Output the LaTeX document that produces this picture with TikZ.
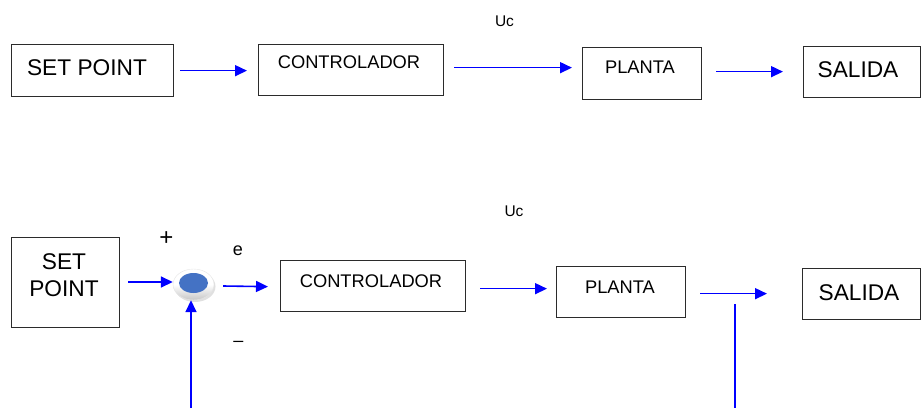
\documentclass[tikz,border=0pt]{standalone}
\usepackage{fontspec}
\setmainfont{Liberation Sans}
\usetikzlibrary{arrows.meta,calc,shapes.geometric}

\definecolor{boxline}{HTML}{2B2B2B}
\definecolor{sumblue}{RGB}{68,114,196}

\tikzset{
  blk/.style={draw=boxline, line width=1.3pt, rectangle, inner sep=0pt,
              anchor=north west, minimum width=#1},
  sig/.style={draw=blue, line width=1.6pt,
              -{Triangle[length=12pt,width=11pt]}},
  feed/.style={draw=blue, line width=1.6pt},
  big/.style={font=\fontsize{22.7}{26.5}\selectfont, anchor=base},
  mid/.style={font=\fontsize{18.3}{22}\selectfont, anchor=base},
  small/.style={font=\fontsize{15.5}{18}\selectfont, anchor=base},
}

\begin{document}
\begin{tikzpicture}[x=1pt, y=-1pt]
  \useasboundingbox (0,0) rectangle (922,408);

  % ---------- open loop ----------
  \node[blk=162, minimum height=52] (sp1) at (11,44) {};
  \node[blk=185, minimum height=51] (c1)  at (258,44) {};
  \node[blk=119, minimum height=52] (p1)  at (582,47) {};
  \node[blk=117, minimum height=51] (s1)  at (803,46) {};

  \node[big] (sp1t) at (87,75)  {SET POINT};
  \node[mid] (c1t)  at (349,68) {CONTROLADOR};
  \node[mid] (p1t)  at (640,73) {PLANTA};
  \node[big] (s1t)  at (858,77) {SALIDA};
  \node[small] (uc1) at (504.5,26.7) {Uc};

  \draw[sig] ($(sp1.east)+(6,0)$) -- ($(c1.west)+(-11,0.5)$);
  \draw[sig] ($(c1.east)+(10,-2.5)$) -- ($(p1.west)+(-10,-6)$);
  \draw[sig] ($(p1.east)+(14,-2)$) -- ($(s1.west)+(-20,-0.5)$);

  % ---------- closed loop ----------
  \node[blk=108, minimum height=90] (sp2) at (11,237) {};
  \node[blk=185, minimum height=51] (c2)  at (280,260) {};
  \node[blk=129, minimum height=51] (p2)  at (556,266) {};
  \node[blk=118, minimum height=51] (s2)  at (802,268) {};

  \node[big] (sp2a) at (64,269) {SET};
  \node[big] (sp2b) at (64,296) {POINT};
  \node[mid] (c2t)  at (371,287) {CONTROLADOR};
  \node[mid] (p2t)  at (620,293) {PLANTA};
  \node[big] (s2t)  at (859,300) {SALIDA};
  \node[small] (uc2) at (514,216.7) {Uc};

  % summing junction: raised disc with a blue centre
  \fill[black!12] (195,286.5) ellipse (20.5 and 15.5);
  \node[ellipse, minimum width=41, minimum height=31, inner sep=0pt,
        top color=white, bottom color=black!22, middle color=white,
        draw=black!10] (sum) at (193.5,284.5) {};
  \fill[sumblue] (193.5,283) ellipse (14.5 and 10);

  \node[font=\fontsize{24}{24}\selectfont] (plus)  at (166.5,238.5) {+};
  \node[font=\fontsize{18}{18}\selectfont] (err)   at (238,250.5) {e};
  \node[font=\fontsize{18}{18}\selectfont] (minus) at (238.5,344) {–};

  \draw[sig] (128,282) -- (sum.west |- 0,282);
  \draw[sig] ($(sum.east)+(9,1.5)$) -- ($(c2.west)+(-12,0.5)$);
  \draw[sig] ($(c2.east)+(14,2.5)$) -- ($(p2.west)+(-9,-3.5)$);
  \draw[sig] ($(p2.east)+(14,1.5)$) -- ($(s2.west)+(-35,-0.5)$);

  % feedback path ends
  \coordinate (fbout) at (735,304);
  \coordinate (fbbot) at (735,408);
  \coordinate (fbin)  at (191,408);
  \draw[feed] (fbout) -- (fbbot);
  \draw[sig] (fbin) -- (sum.south -| fbin);
\end{tikzpicture}
\end{document}
